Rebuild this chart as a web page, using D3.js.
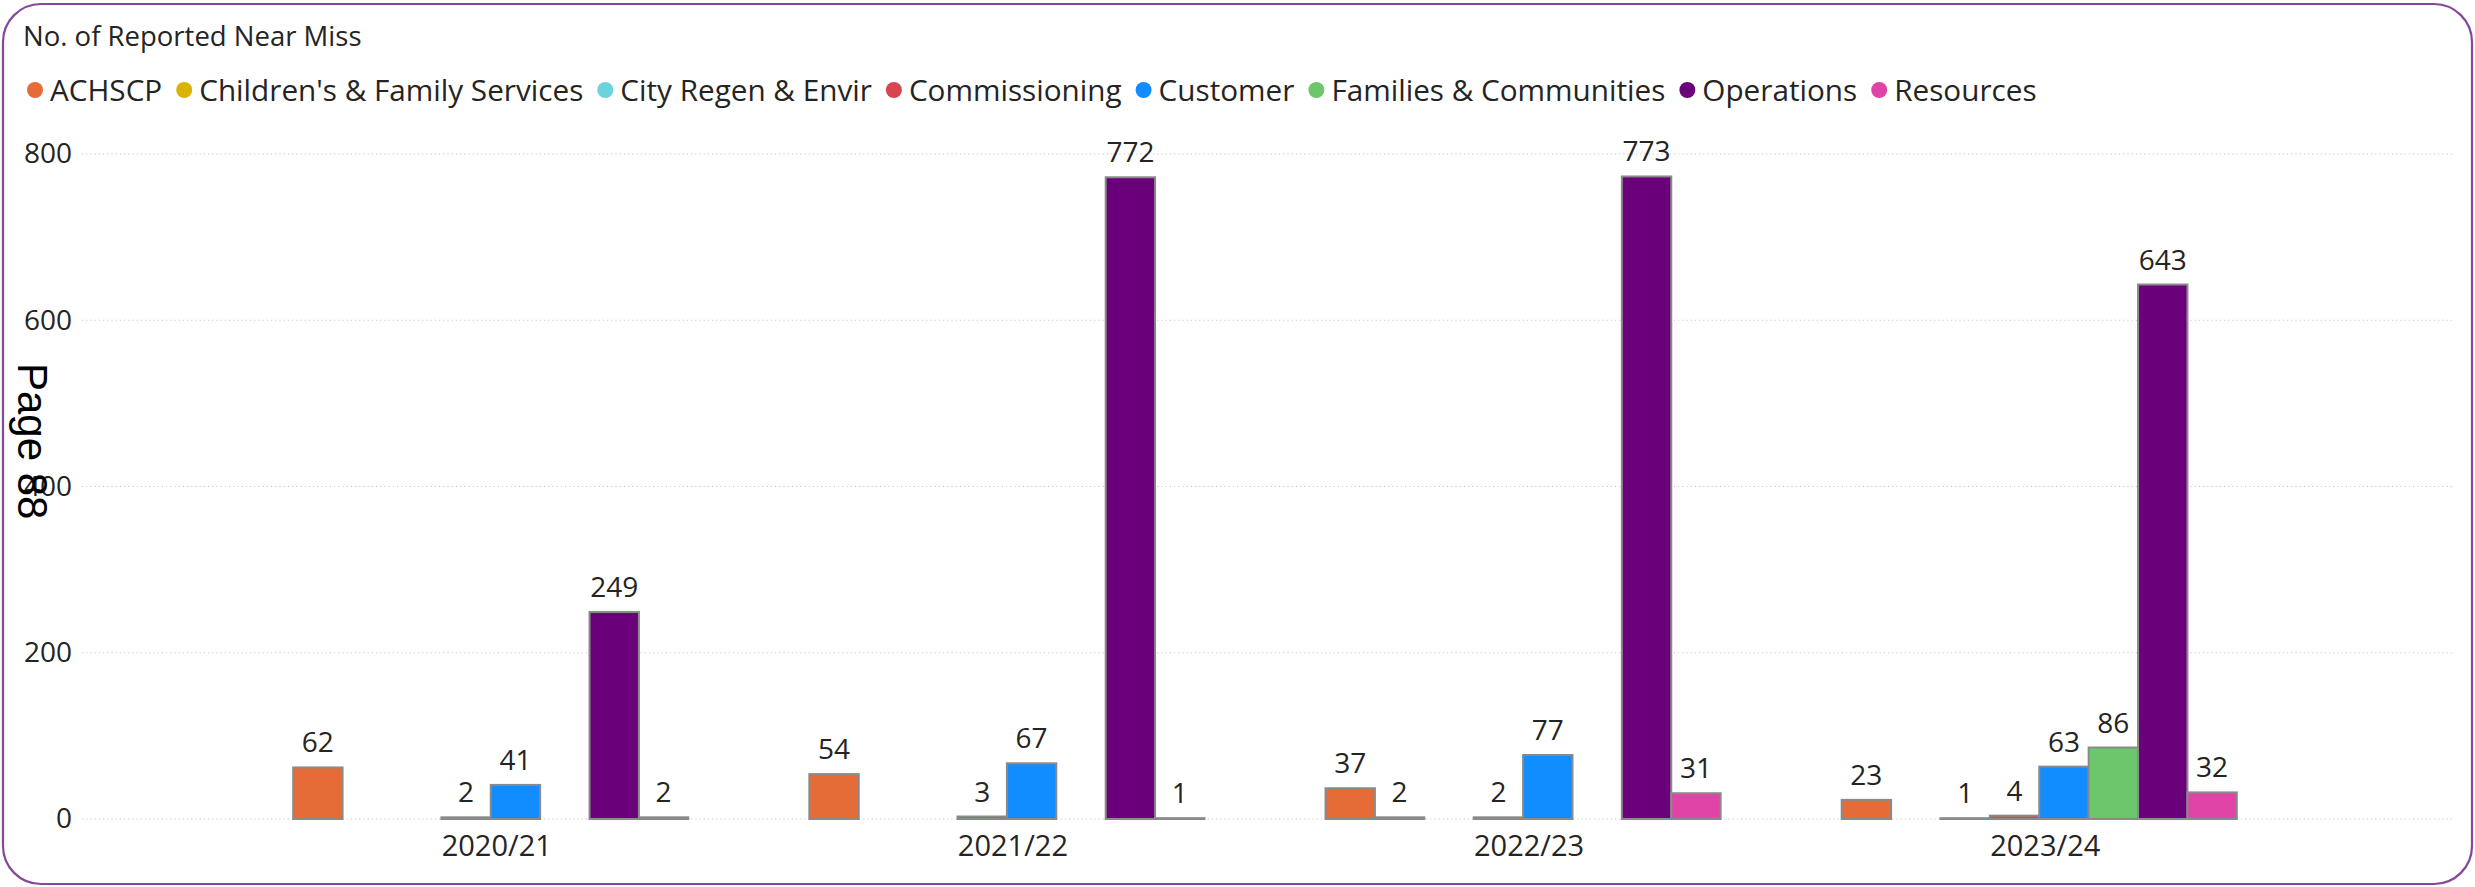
<!DOCTYPE html>
<html>
<head>
<meta charset="utf-8">
<script src="https://cdn.jsdelivr.net/npm/d3@7"></script>
<style>
  html, body { margin: 0; padding: 0; background: #ffffff; }
  svg { display: block; }
</style>
</head>
<body>
<svg id="chart" width="2475" height="887"></svg>
<script>
// Reported near-miss counts by service area and financial year
const years = ["2020/21", "2021/22", "2022/23", "2023/24"];
const seriesNames = ["ACHSCP", "Children's & Family Services", "City Regen & Envir", "Commissioning",
                     "Customer", "Families & Communities", "Operations", "Resources"];
const achscp        = [62, 54, 37, 23];
const childrens     = [null, null, 2, null];
const cityRegen     = [null, null, null, 1];
const commissioning = [2, 3, 2, 4];
const customer      = [41, 67, 77, 63];
const families      = [null, null, null, 86];
const operations    = [249, 772, 773, 643];
const resources     = [2, 1, 31, 32];
const yTicks        = [0, 200, 400, 600, 800];

const seriesValues = [achscp, childrens, cityRegen, commissioning, customer, families, operations, resources];
const colours = ["#E66C37", "#D9B300", "#6AD3DB", "#D64550", "#118DFF", "#6CC76C", "#6B007B", "#E044A7"];

const W = 2475, H = 887;
const svg = d3.select("#chart");

// card background and border
svg.append("rect")
  .attr("x", 3).attr("y", 4).attr("width", W - 6).attr("height", H - 7)
  .attr("rx", 38).attr("ry", 38)
  .attr("fill", "#ffffff")
  .attr("stroke", "#84479a").attr("stroke-width", 2.2);

// title
svg.append("text")
  .attr("x", 23).attr("y", 46)
  .attr("font-family", "'Open Sans', sans-serif")
  .attr("font-size", 27.5)
  .attr("fill", "#252423")
  .text("No. of Reported Near Miss");

// legend, laid out from measured text widths
const legend = svg.append("g").attr("font-family", "'Open Sans', sans-serif").attr("font-size", 29.7);
let lx = 35;
seriesNames.forEach((name, i) => {
  legend.append("circle").attr("cx", lx).attr("cy", 90).attr("r", 8).attr("fill", colours[i]);
  const t = legend.append("text").attr("x", lx + 15).attr("y", 101).attr("fill", "#252423").text(name);
  const w = t.node().getComputedTextLength();
  lx = lx + 15 + w + 22;
});

// scales
const y = d3.scaleLinear().domain([0, 800]).range([819, 154]);
const x0 = d3.scaleBand().domain(years).range([80, 2450]).paddingInner(0.2345).paddingOuter(0.413);
const x1 = d3.scaleBand().domain(seriesNames).range([0, x0.bandwidth()]).padding(0);

// dotted gridlines
svg.append("g").selectAll("line").data(yTicks).join("line")
  .attr("x1", 82).attr("x2", 2455)
  .attr("y1", d => y(d)).attr("y2", d => y(d))
  .attr("stroke", "#c8c8c8").attr("stroke-width", 1.2)
  .attr("stroke-dasharray", "1.2 3");

// y axis labels
const yAxis = d3.axisLeft(y).tickValues(yTicks).tickSize(0).tickPadding(0);
const yg = svg.append("g").attr("transform", "translate(72,0)").call(yAxis);
yg.select(".domain").remove();
yg.selectAll("text")
  .attr("font-family", "'Open Sans', sans-serif")
  .attr("font-size", 28)
  .attr("fill", "#252423");

// x axis labels
const xAxis = d3.axisBottom(x0).tickSize(0).tickPadding(0);
const xg = svg.append("g").attr("transform", "translate(6,835)").call(xAxis);
xg.select(".domain").remove();
xg.selectAll("text")
  .attr("font-family", "'Open Sans', sans-serif")
  .attr("font-size", 29)
  .attr("fill", "#252423");

// bar records
const bars = [];
years.forEach((yr, yi) => {
  seriesNames.forEach((name, si) => {
    const v = seriesValues[si][yi];
    if (v !== null && v !== undefined) bars.push({ year: yr, name, value: v, colour: colours[si] });
  });
});

svg.append("g").selectAll("rect").data(bars).join("rect")
  .attr("x", d => x0(d.year) + x1(d.name))
  .attr("y", d => y(d.value))
  .attr("width", x1.bandwidth())
  .attr("height", d => y(0) - y(d.value))
  .attr("fill", d => d.colour)
  .attr("stroke", "#8a8a8a").attr("stroke-width", 2);

// data labels
svg.append("g").selectAll("text").data(bars).join("text")
  .attr("x", d => x0(d.year) + x1(d.name) + x1.bandwidth() / 2)
  .attr("y", d => y(d.value) - 15)
  .attr("text-anchor", "middle")
  .attr("font-family", "'Open Sans', sans-serif")
  .attr("font-size", 28)
  .attr("fill", "#252423")
  .text(d => d.value);

// page marker printed over the axis
svg.append("text")
  .attr("transform", "translate(18,363) rotate(90)")
  .attr("font-family", "'Liberation Sans', Arial, sans-serif")
  .attr("font-size", 42)
  .attr("fill", "#000000")
  .text("Page 88");
</script>
</body>
</html>
